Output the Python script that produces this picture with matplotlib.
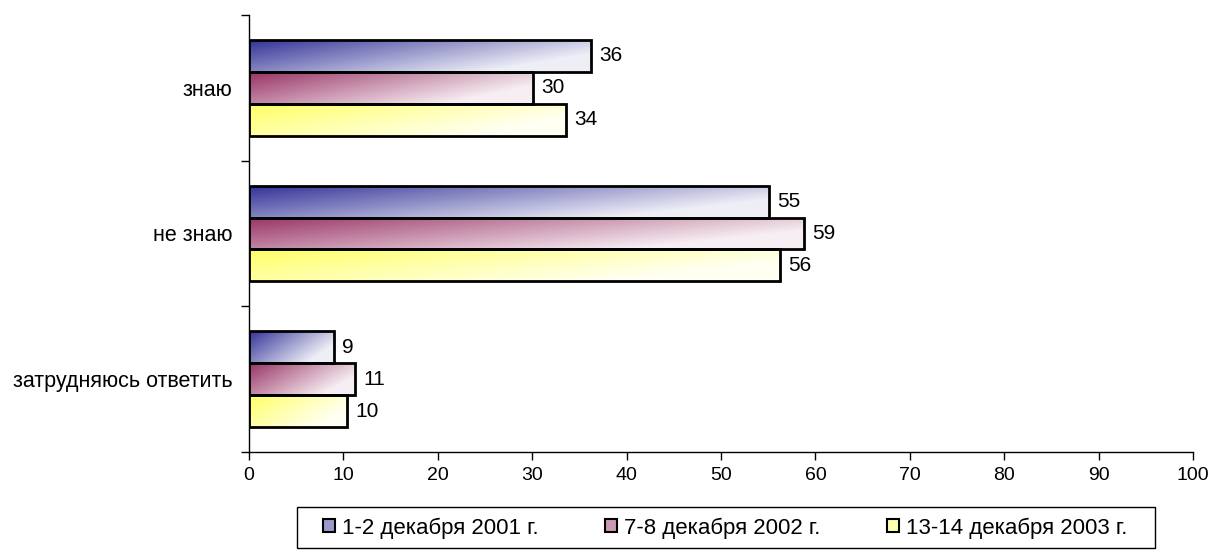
import numpy as np
import matplotlib.pyplot as plt
from matplotlib.patches import Rectangle
from matplotlib.colors import to_rgb

plt.rcParams["font.family"] = ["Liberation Sans", "DejaVu Sans"]

categories = ["знаю", "не знаю", "затрудняюсь ответить"]
series = ["1-2 декабря 2001 г.", "7-8 декабря 2002 г.", "13-14 декабря 2003 г."]
s2001 = [36.2, 55.1, 9.0]
s2002 = [30.1, 58.8, 11.2]
s2003 = [33.6, 56.2, 10.4]
colors = ["#333399", "#993366", "#ffff66"]


def gradient_bar(ax, x0, y0, w, h, color):
    # diagonal gradient: colour at top-left, nearly white at bottom-right
    u = np.linspace(0, 1, 200)[None, :]
    v = np.linspace(0, 1, 40)[:, None]
    t = np.clip(0.75 * u + 0.4 * v, 0, 0.92)
    c = np.array(to_rgb(color))
    img = c[None, None, :] * (1 - t[..., None]) + t[..., None]
    rect = Rectangle((x0, y0), w, h, facecolor="none", edgecolor="black", lw=2, zorder=3)
    ax.add_patch(rect)
    im = ax.imshow(img, extent=(x0, x0 + w, y0 + h, y0), aspect="auto", zorder=2,
                   interpolation="bilinear")
    im.set_clip_path(rect)


fig = plt.figure(figsize=(12.18, 5.52), dpi=100)
ax = fig.add_axes([0.2044, 0.1812, 0.7751, 0.7916])

bh = 0.219
y = np.arange(len(categories))
for k, (vals, col) in enumerate(zip([s2001, s2002, s2003], colors)):
    off = (k - 1) * bh
    for i, v in enumerate(vals):
        gradient_bar(ax, 0, y[i] + off - bh / 2, v, bh, col)
        ax.text(v + 0.9, y[i] + off, f"{v:.0f}", va="center", ha="left", fontsize=15)

ax.set_xlim(0, 100)
ax.set_ylim(2.5, -0.5)
ax.set_xticks(np.arange(0, 101, 10))
ax.set_yticks(y)
ax.set_yticklabels(categories)
ax.set_yticks([-0.5, 0.5, 1.5, 2.5], minor=True)
ax.tick_params(axis="y", which="major", length=0, pad=12, labelsize=15.5)
ax.tick_params(axis="y", which="minor", length=6, width=1)
ax.tick_params(axis="x", length=6, width=1, labelsize=14, pad=5)
for s in ["top", "right"]:
    ax.spines[s].set_visible(False)
for s in ["left", "bottom"]:
    ax.spines[s].set_linewidth(1)

# legend box drawn separately so its size matches
fig.patches.append(Rectangle((297 / 1218, 1 - 548 / 552), 858 / 1218, 41 / 552,
                             transform=fig.transFigure, facecolor="white",
                             edgecolor="black", lw=1))
handles = []
for col in colors:
    c = np.array(to_rgb(col))
    handles.append(Rectangle((0, 0), 1, 1, facecolor=c * 0.5 + 0.5, edgecolor="black", lw=1.5))
leg = fig.legend(handles, series, loc="center", ncol=3, bbox_to_anchor=(725 / 1218, 1 - 528 / 552),
                 fontsize=16, frameon=False, handlelength=0.55, handleheight=0.55,
                 handletextpad=0.3, columnspacing=3.0, borderaxespad=0)

fig.savefig("out.png", dpi=100)
